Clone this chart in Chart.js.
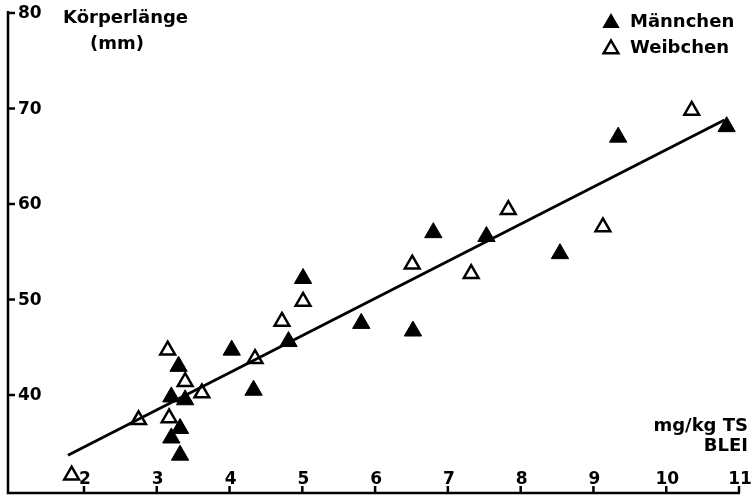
<!DOCTYPE html>
<html>
<head>
<meta charset="utf-8">
<script src="https://cdn.jsdelivr.net/npm/chart.js@4"></script>
<style>
  html, body { margin: 0; padding: 0; background: #fff; }
  #wrap { width: 751px; height: 498px; }
</style>
</head>
<body>
<div id="wrap"><canvas id="chart" width="751" height="498"></canvas></div>
<script>
// Achsen
var xTicks = [2, 3, 4, 5, 6, 7, 8, 9, 10, 11];
var yTicks = [40, 50, 60, 70, 80];

// Männchen (gefüllte Dreiecke)
var maleX = [3.3, 3.2, 3.39, 3.32, 3.2, 3.32, 4.03, 5.01, 4.81, 4.33, 5.81, 6.8, 7.53, 8.54, 6.52, 9.34, 10.83];
var maleY = [43.0, 39.8, 39.5, 36.5, 35.5, 33.7, 44.7, 52.2, 45.6, 40.5, 47.5, 57.0, 56.6, 54.8, 46.7, 67.0, 68.1];

// Weibchen (offene Dreiecke)
var femaleX = [1.83, 2.75, 3.17, 3.15, 3.39, 3.62, 4.35, 4.72, 5.01, 6.51, 7.32, 7.83, 9.13, 10.35];
var femaleY = [31.6, 37.4, 37.6, 44.7, 41.4, 40.2, 43.8, 47.7, 49.8, 53.7, 52.7, 59.4, 57.6, 69.8];

// Regressionsgerade
var lineX = [1.78, 10.8];
var lineY = [33.7, 68.8];

function pts(xs, ys) {
  return xs.map(function (x, i) { return { x: x, y: ys[i] }; });
}

var FONT = "bold 17px 'DejaVu Sans'";
var FONT_BIG = "bold 18px 'DejaVu Sans'";

function tri(ctx, x, y, r, filled) {
  ctx.beginPath();
  ctx.moveTo(x, y - r);
  ctx.lineTo(x + r * 0.866, y + r / 2);
  ctx.lineTo(x - r * 0.866, y + r / 2);
  ctx.closePath();
  if (filled) { ctx.fillStyle = '#000'; ctx.fill(); }
  else { ctx.fillStyle = '#fff'; ctx.fill(); ctx.lineWidth = 2.5; ctx.strokeStyle = '#000'; ctx.stroke(); }
}

var axesPlugin = {
  id: 'axes',
  afterDraw: function (chart) {
    var ctx = chart.ctx;
    var xs = chart.scales.x, ys = chart.scales.y;
    var a = chart.chartArea;
    ctx.save();
    ctx.strokeStyle = '#000';
    ctx.lineWidth = 2.5;
    ctx.beginPath();
    ctx.moveTo(a.left, a.top - 2);
    ctx.lineTo(a.left, a.bottom);
    ctx.lineTo(a.right + 1, a.bottom);
    ctx.stroke();

    ctx.fillStyle = '#000';
    ctx.font = FONT;
    // y ticks
    ctx.textAlign = 'left';
    ctx.textBaseline = 'middle';
    yTicks.forEach(function (v) {
      var py = ys.getPixelForValue(v);
      ctx.beginPath();
      ctx.moveTo(a.left, py);
      ctx.lineTo(a.left + 7, py);
      ctx.stroke();
      ctx.fillText(String(v), a.left + 10, py + 1);
    });
    // x ticks
    ctx.textAlign = 'center';
    ctx.textBaseline = 'bottom';
    xTicks.forEach(function (v) {
      var px = xs.getPixelForValue(v);
      ctx.beginPath();
      ctx.moveTo(px, a.bottom);
      ctx.lineTo(px, a.bottom - 7);
      ctx.stroke();
      ctx.fillText(String(v), px + 1, a.bottom - 5);
    });

    // Achsentitel
    ctx.font = FONT_BIG;
    ctx.textAlign = 'left';
    ctx.textBaseline = 'middle';
    ctx.fillText('Körperlänge', 63, 18);
    ctx.fillText('(mm)', 90, 44);
    ctx.textAlign = 'right';
    ctx.fillText('mg/kg TS', 748, 426);
    ctx.fillText('BLEI', 748, 446);

    // Legende
    ctx.textAlign = 'left';
    chart.data.datasets.forEach(function (ds, i) {
      if (!ds.label) return;
      var ly = i === 1 ? 22 : 48;
      tri(ctx, 611, ly + 1, i === 1 ? 10 : 8.5, i === 1);
      ctx.fillStyle = '#000';
      ctx.fillText(ds.label, 630, ly);
    });
    ctx.restore();
  }
};

new Chart(document.getElementById('chart'), {
  type: 'scatter',
  data: {
    datasets: [
      {
        label: '',
        data: pts(lineX, lineY),
        showLine: true,
        borderColor: '#000',
        borderWidth: 2.8,
        pointRadius: 0,
        fill: false
      },
      {
        label: 'Männchen',
        data: pts(maleX, maleY),
        pointStyle: 'triangle',
        pointRadius: 10,
        backgroundColor: '#000',
        borderColor: '#000',
        borderWidth: 1
      },
      {
        label: 'Weibchen',
        data: pts(femaleX, femaleY),
        pointStyle: 'triangle',
        pointRadius: 8.5,
        backgroundColor: '#fff',
        borderColor: '#000',
        borderWidth: 2.5
      }
    ]
  },
  options: {
    responsive: false,
    animation: false,
    layout: { autoPadding: false, padding: { left: 8, right: 12, top: 13, bottom: 5 } },
    plugins: { legend: { display: false }, tooltip: { enabled: false } },
    scales: {
      x: { type: 'linear', min: 0.956, max: 11, display: false },
      y: { type: 'linear', min: 29.74, max: 80, display: false }
    },
    clip: false
  },
  plugins: [axesPlugin]
});
</script>
</body>
</html>
